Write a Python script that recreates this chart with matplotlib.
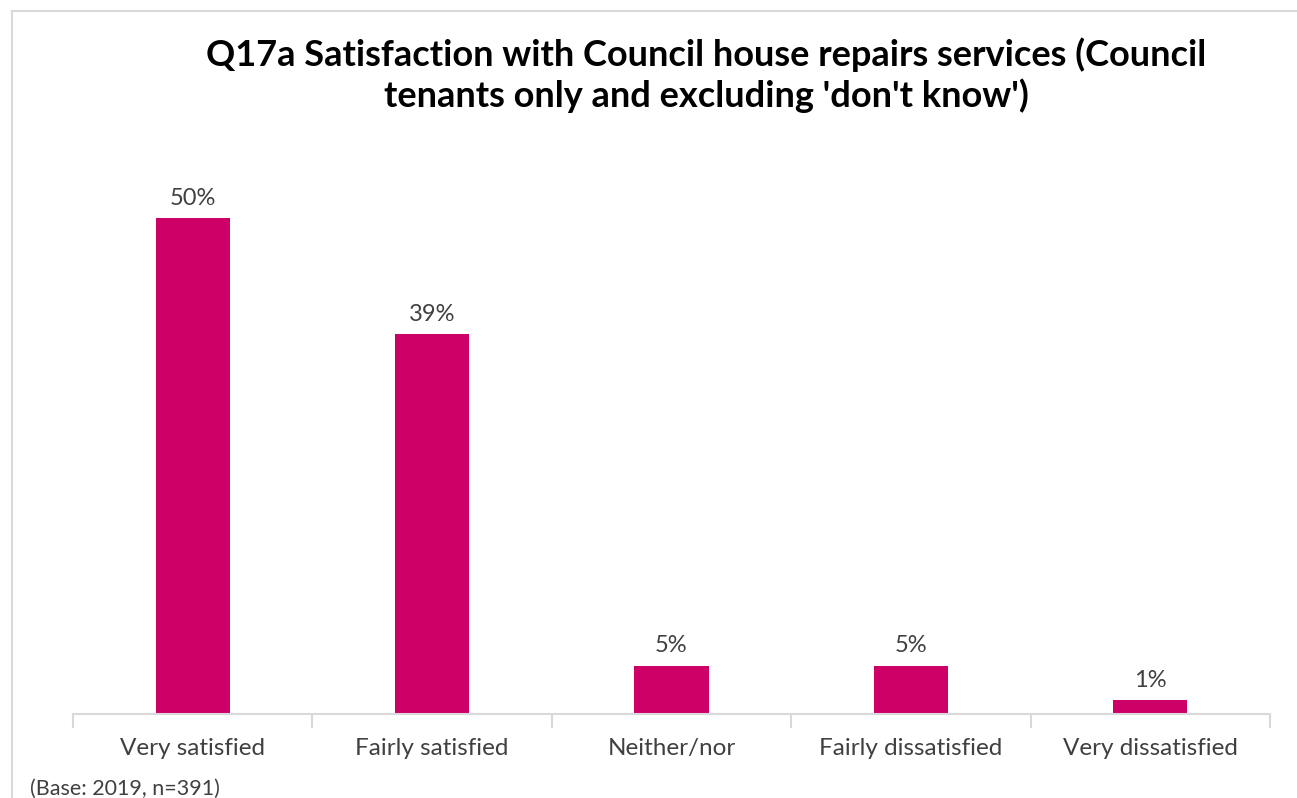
import matplotlib.pyplot as plt
from matplotlib.lines import Line2D

categories = ["Very satisfied", "Fairly satisfied", "Neither/nor",
              "Fairly dissatisfied", "Very dissatisfied"]
values = [50.4, 38.6, 4.9, 4.9, 1.4]

title = ("Q17a Satisfaction with Council house repairs services (Council\n"
         "tenants only and excluding 'don't know')")
footnote = "(Base: 2019, n=391)"

BAR = "#CC0066"
TXT = "#404040"
GRID = "#D9D9D9"

W, H = 1297, 798
fig = plt.figure(figsize=(W / 100, H / 100), dpi=100)

# chart frame (cropped on right / bottom)
fig.add_artist(Line2D([12 / W, 12 / W], [0, 1 - 11 / H], color=GRID, lw=1.5))
fig.add_artist(Line2D([12 / W, 1], [1 - 11 / H, 1 - 11 / H], color=GRID, lw=1.5))

# plot area
x0, x1, y0, ytop = 73, 1270, 714, 124
ax = fig.add_axes([x0 / W, 1 - y0 / H, (x1 - x0) / W, (y0 - ytop) / H])
xs = range(len(categories))
ax.bar(xs, values, width=0.31, color=BAR)
ax.set_xlim(-0.5, len(categories) - 0.5)
ax.set_ylim(0, 60)

for x, v in zip(xs, values):
    ax.annotate(f"{round(v)}%", (x, v), xytext=(0, 7), textcoords="offset points",
                ha="center", va="bottom", fontsize=17, color=TXT, family="Lato")

ax.set_xticks(list(xs))
ax.set_xticklabels(categories, fontsize=17.5, color=TXT, family="Lato")
ax.tick_params(axis="x", length=0, pad=17)
ax.set_xticks([i - 0.5 for i in range(len(categories) + 1)], minor=True)
ax.tick_params(axis="x", which="minor", length=10, color=GRID, width=1.5)
ax.set_yticks([])
for s in ["top", "right", "left"]:
    ax.spines[s].set_visible(False)
ax.spines["bottom"].set_color(GRID)
ax.spines["bottom"].set_linewidth(1.5)

fig.text(706 / W, 1 - 37 / H, title, ha="center", va="top", fontsize=26,
         fontweight="bold", color="black", family="Lato", linespacing=1.25)
fig.text(30 / W, 1 - 779 / H, footnote, ha="left", va="top", fontsize=15.5,
         color=TXT, family="Lato")

fig.savefig("out.png", dpi=100)
